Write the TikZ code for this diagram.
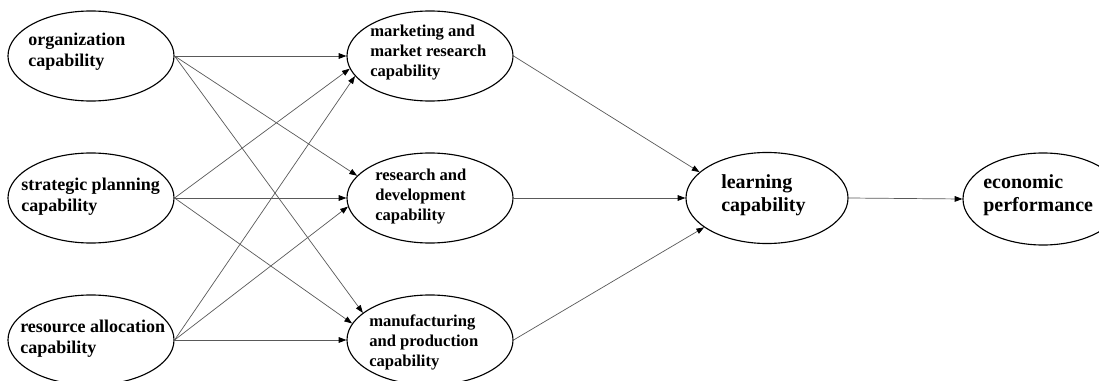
\documentclass[tikz,border=0pt]{standalone}
\usepackage{fontspec}
\setmainfont{Liberation Serif}
\usetikzlibrary{shapes.geometric, arrows.meta, positioning, calc}

\begin{document}
\begin{tikzpicture}[x=0.025cm, y=-0.025cm,
    latent/.style={draw, ellipse, inner sep=0pt, line width=0.8pt,
        minimum width=4.15cm, minimum height=2.25cm},
    txt/.style={anchor=west, align=left, inner sep=0pt, font=\bfseries},
    small/.style={font=\bfseries\fontsize{12.8}{14.9}\selectfont},
    mid/.style={font=\bfseries\fontsize{11.8}{14.2}\selectfont},
    big/.style={font=\bfseries\fontsize{14.2}{16.5}\selectfont},
    link/.style={black!65, line width=0.5pt,
        -{Triangle[length=5.5pt,width=4pt,fill=black,color=black]}}]
\useasboundingbox (0,0) rectangle (1099,381);
% first column
\node[latent] (org) at (91,56) {};
\node[latent] (plan) at (91,198) {};
\node[latent] (alloc) at (91,340) {};
\node[txt, small] (org-t) at (28,52) {organization\\capability};
\node[txt, small] (plan-t) at (21,197) {strategic planning\\capability};
\node[txt, small] (alloc-t) at (20,339) {resource allocation\\capability};
% second column
\node[latent] (mkt) at (430,56) {};
\node[latent] (rd) at (430,198) {};
\node[latent] (mfg) at (430,340) {};
\node[txt, mid] (mkt-t) at (370,53) {marketing and\\market research\\capability};
\node[txt, mid] (rd-t) at (375,197) {research and\\development\\capability};
\node[txt, mid] (mfg-t) at (369,342) {manufacturing\\and production\\capability};
% outcomes
\node[latent, minimum width=4.05cm, minimum height=2.275cm] (learn) at (767,198) {};
\node[latent, minimum width=4.0cm, minimum height=2.3cm] (econ) at (1043,199) {};
\node[txt, big] (learn-t) at (721,195) {learning\\capability};
\node[txt, big] (econ-t) at (983,195) {economic\\performance};
% paths
\draw[link] (org.east) -- (mkt.west);
\draw[link] (org.east) -- (rd.163);
\draw[link] (org.east) -- (mfg.158);
\draw[link] (plan.east) -- (mkt.189);
\draw[link] (plan.east) -- (rd.west);
\draw[link] (plan.east) -- (mfg.168);
\draw[link] (alloc.east) -- (mkt.195);
\draw[link] (alloc.east) -- (rd.186);
\draw[link] (alloc.east) -- (mfg.west);
\draw[link] (mkt.east) -- (learn.159);
\draw[link] (rd.east) -- (learn.west);
\draw[link] (mfg.east) -- (learn.205);
\draw[link] (learn.east) -- (econ.west);
\end{tikzpicture}
\end{document}
